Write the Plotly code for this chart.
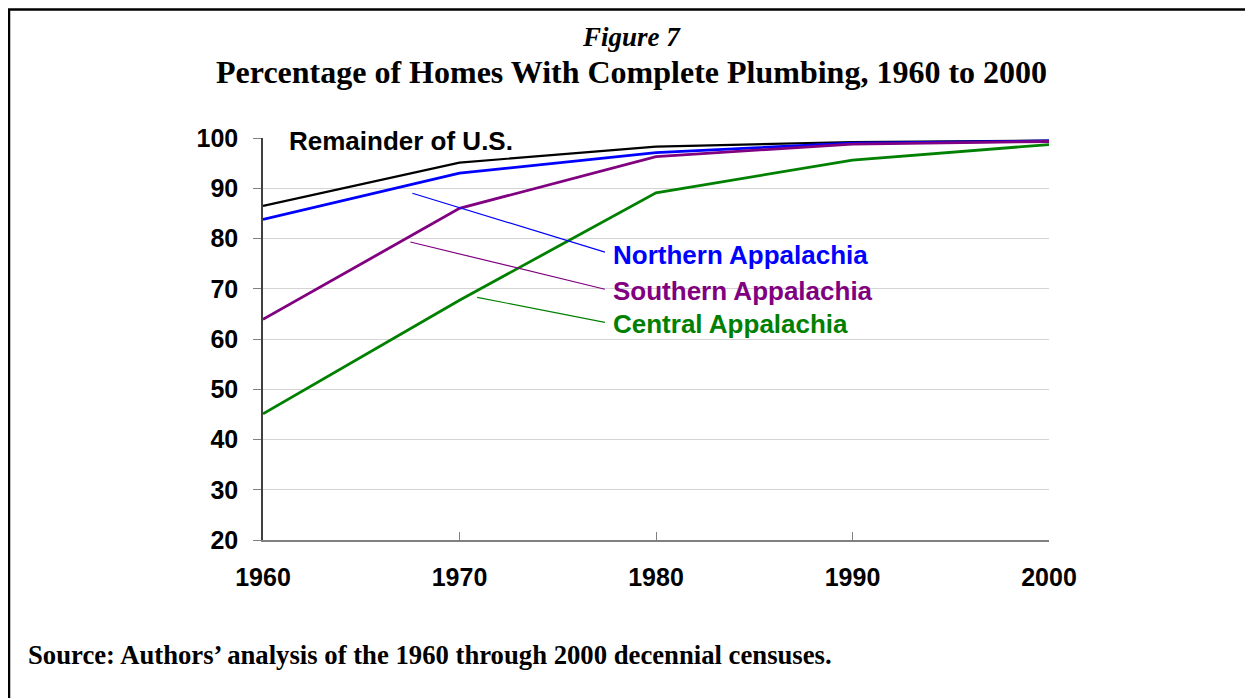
import plotly.graph_objects as go

years = [1960, 1970, 1980, 1990, 2000]
remainder_us = [86.5, 95.1, 98.3, 99.2, 99.5]
northern = [83.8, 93.0, 97.1, 99.0, 99.4]
southern = [63.9, 86.0, 96.3, 98.8, 99.3]
central = [45.1, 67.7, 89.1, 95.6, 98.7]

y_ticks = [20, 30, 40, 50, 60, 70, 80, 90, 100]
x_ticks = [1960, 1970, 1980, 1990, 2000]

# page body has an 8px margin: size the figure to fit and offset positions
OFF = 8
W, H = 1253 - OFF, 698 - OFF
L, T = 263 - OFF, 138 - OFF
R = 1253 - 1049
B = 698 - 540
PW, PH = W - L - R, H - T - B

def px(x):
    return (x - OFF - L) / PW

def py(y):
    return (H - B - (y - OFF)) / PH

series = [
    ("Remainder of U.S.", remainder_us, "#000000", 2.2),
    ("Northern Appalachia", northern, "#0000FF", 2.8),
    ("Southern Appalachia", southern, "#800080", 2.8),
    ("Central Appalachia", central, "#008000", 2.8),
]

fig = go.Figure()
for name, vals, color, w in series:
    fig.add_trace(go.Scatter(x=years, y=vals, mode="lines", name=name,
                             line=dict(color=color, width=w), showlegend=False))

lab_font = "Liberation Sans, Arial, sans-serif"
ser_font = "Liberation Serif, Times New Roman, serif"

# series labels
labels = [
    ("Remainder of U.S.", 1961.2, 99.4, "#000000"),
    ("Northern Appalachia", 1977.7, 76.8, "#0000FF"),
    ("Southern Appalachia", 1977.7, 69.6, "#800080"),
    ("Central Appalachia", 1977.7, 63.0, "#008000"),
]
for text, x, y, c in labels:
    fig.add_annotation(x=x, y=y, xref="x", yref="y", text="<b>%s</b>" % text,
                       showarrow=False, xanchor="left", yanchor="middle",
                       font=dict(family=lab_font, size=26, color=c))

# leader lines
leaders = [
    (1967.6, 89.0, 1977.4, 77.3, "#0000FF"),
    (1967.5, 79.3, 1977.4, 69.9, "#800080"),
    (1970.9, 68.3, 1977.4, 63.3, "#008000"),
]
for x0, y0, x1, y1, c in leaders:
    fig.add_shape(type="line", xref="x", yref="y", x0=x0, y0=y0, x1=x1, y1=y1,
                  line=dict(color=c, width=1.2))

# titles
fig.add_annotation(x=px(631), y=py(37), xref="paper", yref="paper",
                   text="<b><i>Figure 7</i></b>", showarrow=False,
                   xanchor="center", yanchor="middle",
                   font=dict(family=ser_font, size=27, color="#000000"))
fig.add_annotation(x=px(631), y=py(72), xref="paper", yref="paper",
                   text="<b>Percentage of Homes With Complete Plumbing, 1960 to 2000</b>",
                   showarrow=False, xanchor="center", yanchor="middle",
                   font=dict(family=ser_font, size=32, color="#000000"))
fig.add_annotation(x=px(26), y=py(655), xref="paper", yref="paper",
                   text="<b>Source: Authors\u2019 analysis of the 1960 through 2000 decennial censuses.</b>",
                   showarrow=False, xanchor="left", yanchor="middle",
                   font=dict(family=ser_font, size=26.7, color="#000000"))

# frame border
fig.add_shape(type="rect", xref="paper", yref="paper",
              x0=px(9), x1=px(1251), y0=py(720), y1=py(9.5),
              line=dict(color="#000000", width=2.5), layer="above")

fig.update_layout(
    width=W, height=H,
    margin=dict(l=L, r=R, t=T, b=B),
    paper_bgcolor="white", plot_bgcolor="white",
    xaxis=dict(range=[1960, 2000], tickmode="array", tickvals=x_ticks,
               ticktext=["<b>%d</b>" % v for v in x_ticks],
               ticks="inside", ticklen=8, tickcolor="#808080", tickwidth=1,
               showline=True, linecolor="#808080", linewidth=1.5,
               showgrid=False, zeroline=False, ticklabelstandoff=14,
               tickfont=dict(family=lab_font, size=25, color="#000000"),
               fixedrange=True),
    yaxis=dict(range=[20, 100], tickmode="array", tickvals=y_ticks,
               ticktext=["<b>%d</b>" % v for v in y_ticks],
               ticks="outside", ticklen=8, tickcolor="#808080", tickwidth=1,
               showline=True, linecolor="#404040", linewidth=1.5,
               showgrid=True, gridcolor="#D4D4D4", gridwidth=1,
               zeroline=False, ticklabelstandoff=10,
               tickfont=dict(family=lab_font, size=25, color="#000000"),
               fixedrange=True),
)

fig.write_html("out.html")
